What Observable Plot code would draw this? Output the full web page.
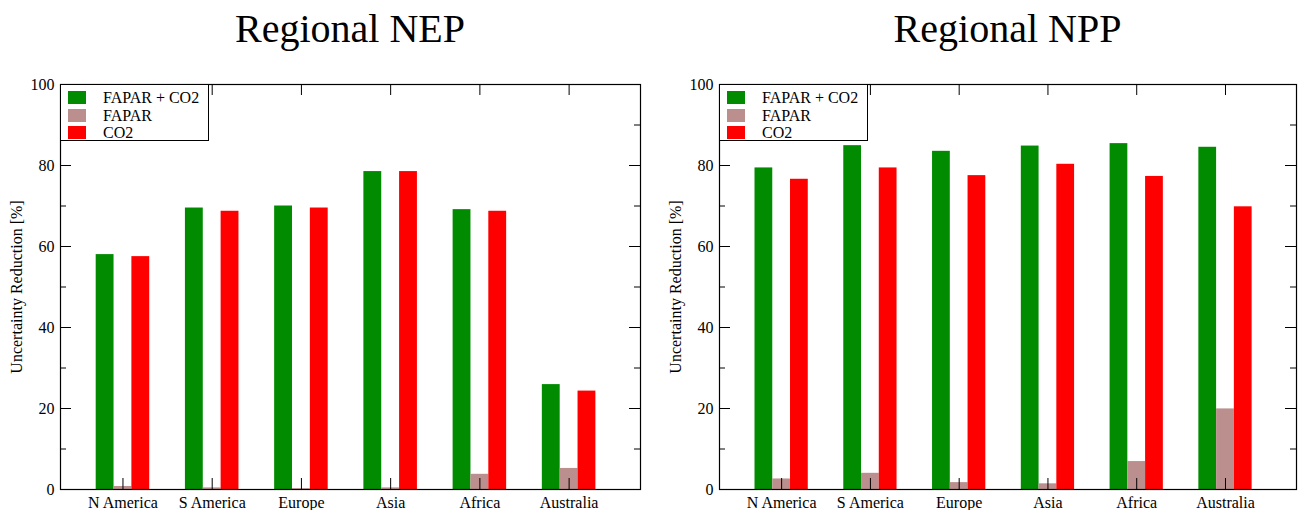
<!DOCTYPE html>
<html>
<head>
<meta charset="utf-8">
<script src="https://cdn.jsdelivr.net/npm/d3@7"></script>
<script src="https://cdn.jsdelivr.net/npm/@observablehq/plot@0.6"></script>
<style>
  body { margin: 0; background: #fff; }
  #root { position: relative; width: 1298px; height: 510px; overflow: hidden; font-family: "Liberation Serif", "Times New Roman", serif; color: #000; }
  .panel { position: absolute; top: 0; width: 649px; height: 510px; }
  .title { position: absolute; top: 9px; font-size: 40px; line-height: 40px; white-space: nowrap; transform: translateX(-50%); }
  .plot { position: absolute; top: 54px; left: 0; }
  .legend { position: absolute; top: 84px; width: 147px; height: 55px; border: 1px solid #000; background: #fff; }
  .legend .row { position: absolute; left: 0; height: 17.5px; font-size: 16px; }
  .legend .sw { position: absolute; left: 7px; width: 18px; height: 13px; }
  .legend .lab { position: absolute; left: 42px; white-space: nowrap; line-height: 17.5px; }
</style>
</head>
<body>
<div id="root"></div>
<script>
// Categories and series
const regions = ["N America", "S America", "Europe", "Asia", "Africa", "Australia"];
const series = ["FAPAR + CO2", "FAPAR", "CO2"];
const colors = ["#008b00", "#bc8f8f", "#ff0000"];

// Regional NEP values [%]
const nepFaparCo2 = [58.0, 69.5, 70.0, 78.5, 69.1, 25.9];
const nepFapar    = [0.75, 0.4, 0.2, 0.4, 3.75, 5.2];
const nepCo2      = [57.5, 68.7, 69.5, 78.5, 68.7, 24.3];

// Regional NPP values [%]
const nppFaparCo2 = [79.4, 84.9, 83.5, 84.8, 85.4, 84.5];
const nppFapar    = [2.6, 4.0, 1.7, 1.4, 6.9, 19.9];
const nppCo2      = [76.6, 79.4, 77.5, 80.3, 77.3, 69.8];

// Axis ticks
const yMajor = [0, 20, 40, 60, 80, 100];
const yMinor = [10, 30, 50, 70, 90];
const yLabel = "Uncertainty Reduction [%]";

const font = '"Liberation Serif", "Times New Roman", serif';
const root = document.getElementById("root");

function buildData(values) {
  const out = [];
  regions.forEach((r, i) => {
    series.forEach((s, j) => {
      out.push({region: r, idx: i + 1, series: s, j, value: values[j][i]});
    });
  });
  return out;
}

function makePanel({title, values, left, marginLeft, marginRight}) {
  const width = 649, height = 456, marginTop = 30, marginBottom = 21;
  const fw = width - marginLeft - marginRight;
  const fh = height - marginTop - marginBottom;
  const data = buildData(values);
  const xIdx = regions.map((_, i) => i + 1);
  const barW = 0.2;

  const panel = document.createElement("div");
  panel.className = "panel";
  panel.style.left = left + "px";
  root.appendChild(panel);

  const chart = Plot.plot({
    width, height, marginTop, marginBottom, marginLeft, marginRight,
    x: {domain: [0.3, 6.8], axis: null},
    y: {domain: [0, 100], axis: null},
    color: {domain: series, range: colors},
    style: {fontFamily: font, fontSize: "16px", color: "#000", background: "transparent", overflow: "visible"},
    marks: [
      Plot.rect(data, {
        x1: d => d.idx + (d.j - 1) * barW - barW / 2,
        x2: d => d.idx + (d.j - 1) * barW + barW / 2,
        y1: () => 0,
        y2: "value",
        fill: "series"
      }),
      Plot.tickY(yMajor, {y: d => d, insetRight: fw - 11, stroke: "#000"}),
      Plot.tickY(yMajor, {y: d => d, insetLeft: fw - 11, stroke: "#000"}),
      Plot.tickY(yMinor, {y: d => d, insetRight: fw - 6, stroke: "#000"}),
      Plot.tickY(yMinor, {y: d => d, insetLeft: fw - 6, stroke: "#000"}),
      Plot.tickX(xIdx, {x: d => d, insetTop: fh - 11, stroke: "#000"}),
      Plot.tickX(xIdx, {x: d => d, insetBottom: fh - 11, stroke: "#000"}),
      Plot.frame({stroke: "#000", strokeWidth: 1.2}),
      Plot.axisY({ticks: yMajor, tickSize: 0, tickPadding: 6, fontSize: 16,
        label: yLabel, labelAnchor: "center", labelOffset: 50, labelArrow: false}),
      Plot.axisX({ticks: xIdx, tickFormat: i => regions[i - 1], tickSize: 0, tickPadding: 7, fontSize: 16, label: null})
    ]
  });
  const holder = document.createElement("div");
  holder.className = "plot";
  holder.appendChild(chart);
  panel.appendChild(holder);

  const t = document.createElement("div");
  t.className = "title";
  t.textContent = title;
  t.style.left = (marginLeft + fw / 2) + "px";
  panel.appendChild(t);

  const lg = document.createElement("div");
  lg.className = "legend";
  lg.style.left = marginLeft + "px";
  series.forEach((s, j) => {
    const row = document.createElement("div");
    row.className = "row";
    row.style.top = (4 + j * 17.5) + "px";
    row.style.width = "147px";
    const sw = document.createElement("div");
    sw.className = "sw";
    sw.style.background = colors[j];
    sw.style.top = "2.25px";
    const lab = document.createElement("div");
    lab.className = "lab";
    lab.style.top = "0px";
    lab.textContent = s;
    row.appendChild(sw);
    row.appendChild(lab);
    lg.appendChild(row);
  });
  panel.appendChild(lg);
}

makePanel({title: "Regional NEP", values: [nepFaparCo2, nepFapar, nepCo2], left: 0, marginLeft: 60, marginRight: 9});
makePanel({title: "Regional NPP", values: [nppFaparCo2, nppFapar, nppCo2], left: 649, marginLeft: 70, marginRight: 2});
</script>
</body>
</html>
